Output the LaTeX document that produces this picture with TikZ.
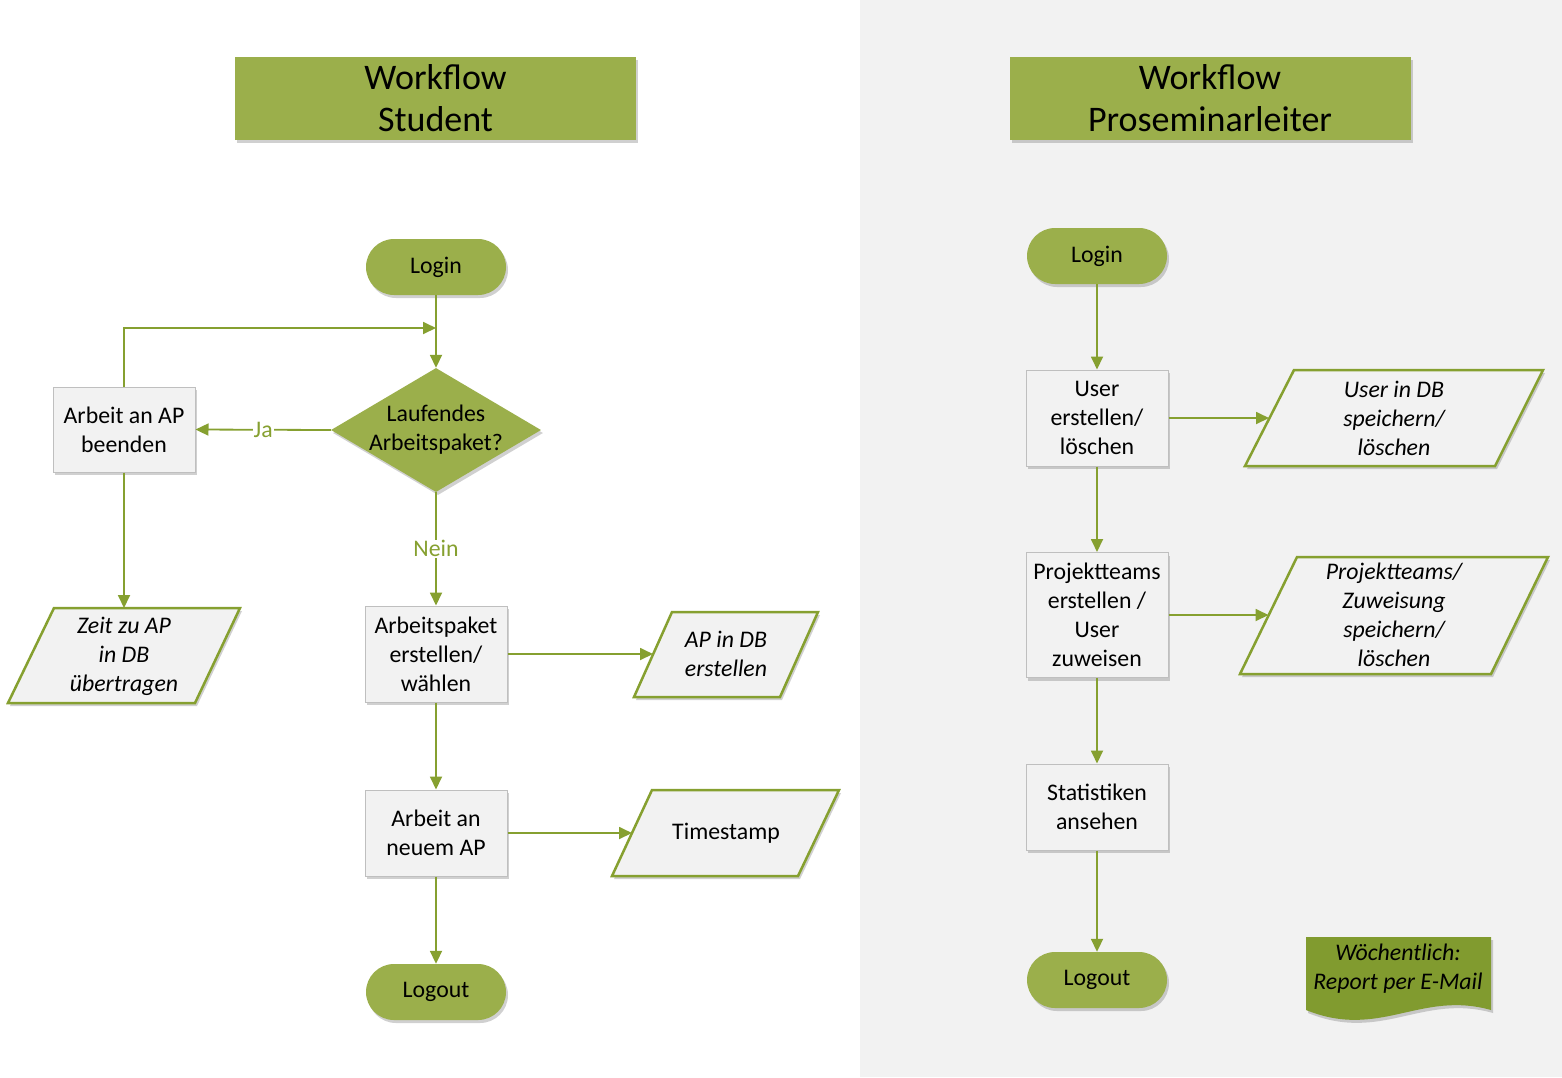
\documentclass[tikz,border=0pt]{standalone}
\usepackage{fontspec}
\setmainfont{Carlito}
\usetikzlibrary{arrows.meta,shapes.geometric,shadows}
\definecolor{wfgreen}{HTML}{9BAF4B}
\definecolor{wfline}{HTML}{86A030}
\definecolor{wfdoc}{HTML}{819B2F}
\definecolor{wfgray}{HTML}{F2F2F2}
\definecolor{wfborder}{HTML}{BFBFBF}
\newcommand{\wfbody}{\fontsize{23.8}{29}\selectfont}
\tikzset{
  shad/.style={drop shadow={shadow xshift=2pt,shadow yshift=-3pt,opacity=0.3,fill=black!60}},
  titlebox/.style={fill=wfgreen, minimum width=401pt, minimum height=83pt, font=\fontsize{36}{42}\selectfont, align=center, inner sep=0pt, shad},
  term/.style={fill=wfgreen, rounded corners=28pt, minimum width=140pt, minimum height=56pt, font=\wfbody, inner sep=0pt, shad},
  procbox/.style={fill=wfgray, draw=wfborder, line width=1pt, minimum width=142pt, align=center, font=\wfbody, inner sep=2pt, shad},
  iotext/.style={align=center, font=\wfbody\itshape},
  iotextup/.style={align=center, font=\wfbody},
  io/.style={fill=wfgray, draw=wfline, line width=2.5pt, line join=miter, shad},
  arr/.style={draw=wfline, line width=1.8pt, -{Triangle[length=13pt,width=12pt]}},
  lbl/.style={text=wfline, font=\wfbody, fill=white, inner sep=1pt},
}
\begin{document}
\begin{tikzpicture}[x=1pt,y=-1pt]
\useasboundingbox (0,0) rectangle (1562,1077);
\fill[white] (0,0) rectangle (860,1077);
\fill[wfgray] (860,0) rectangle (1562,1077);

% titles
\node[titlebox] (t1) at (435.5,98.5) {Workflow\\Student};
\node[titlebox] (t2) at (1210,98.5) {Workflow\\Proseminarleiter};

% ---------- left: student ----------
\node[term] (login1) at (436,267) {Login};
\node[diamond, fill=wfgreen, minimum width=210pt, minimum height=124pt, inner sep=0pt, shad] (dia) at (436,430) {};
\node[align=center, font=\wfbody] (diatext) at (dia) {Laufendes\\Arbeitspaket?};
\node[procbox, minimum height=85pt] (beenden) at (124,429.5) {Arbeit an AP\\beenden};
\node[procbox, minimum height=96pt] (apbox) at (436,654) {Arbeitspaket\\erstellen/\\wählen};
\node[procbox, minimum height=86pt] (neu) at (436,833) {Arbeit an\\neuem AP};
\node[term] (logout1) at (436,992) {Logout};

\path[io] (54,608) -- (240,608) -- (195,703) -- (8,703) -- cycle;
\node[iotext] (zeit) at (124,656) {Zeit zu AP\\in DB\\übertragen};
\coordinate (zeitin) at (124,608);

\path[io] (672,612) -- (818,612) -- (780,697) -- (634,697) -- cycle;
\node[iotext] (apdb) at (726,654) {AP in DB\\erstellen};
\coordinate (apdbin) at (653,654);

\path[io] (652,790) -- (839,790) -- (798,876) -- (612,876) -- cycle;
\node[iotextup] (ts) at (726,833) {Timestamp};
\coordinate (tsin) at (632,833);

\coordinate (loopend) at (436,328);

\draw[arr] (login1.south) -- (dia.north);
\draw[arr] (beenden.north) |- (loopend);
\draw[arr] (dia.west) -- node[lbl] (ja) {Ja} (beenden.east);
\draw[arr] (dia.south) -- node[lbl] (nein) {Nein} (apbox.north);
\draw[arr] (beenden.south) -- (zeitin);
\draw[arr] (apbox.east) -- (apdbin);
\draw[arr] (apbox.south) -- (neu.north);
\draw[arr] (neu.east) -- (tsin);
\draw[arr] (neu.south) -- (logout1.north);

% ---------- right: Proseminarleiter ----------
\node[term] (login2) at (1097,256) {Login};
\node[procbox, minimum height=96pt] (user) at (1097,418) {User\\erstellen/\\löschen};
\node[procbox, minimum height=125pt] (proj) at (1097,615) {Projektteams\\erstellen /\\User\\zuweisen};
\node[procbox, minimum height=86pt] (stat) at (1097,807) {Statistiken\\ansehen};
\node[term] (logout2) at (1097,980) {Logout};

\path[io] (1294,370) -- (1543,370) -- (1495,466) -- (1245,466) -- cycle;
\node[iotext] (userdb) at (1394,418) {User in DB\\speichern/\\löschen};
\coordinate (userdbin) at (1269,418);

\path[io] (1297,557) -- (1548,557) -- (1491,674) -- (1240,674) -- cycle;
\node[iotext] (projdb) at (1394,615) {Projektteams/\\Zuweisung\\speichern/\\löschen};
\coordinate (projdbin) at (1268.5,615);

\path[fill=wfdoc, shad] (1306,937) -- (1491,937) -- (1491,1010)
  .. controls (1420,990) and (1380,1040) .. (1306,1010) -- cycle;
\node[iotext] (report) at (1398,969) {Wöchentlich:\\Report per E-Mail};

\draw[arr] (login2.south) -- (user.north);
\draw[arr] (user.east) -- (userdbin);
\draw[arr] (user.south) -- (proj.north);
\draw[arr] (proj.east) -- (projdbin);
\draw[arr] (proj.south) -- (stat.north);
\draw[arr] (stat.south) -- (logout2.north);
\end{tikzpicture}
\end{document}
